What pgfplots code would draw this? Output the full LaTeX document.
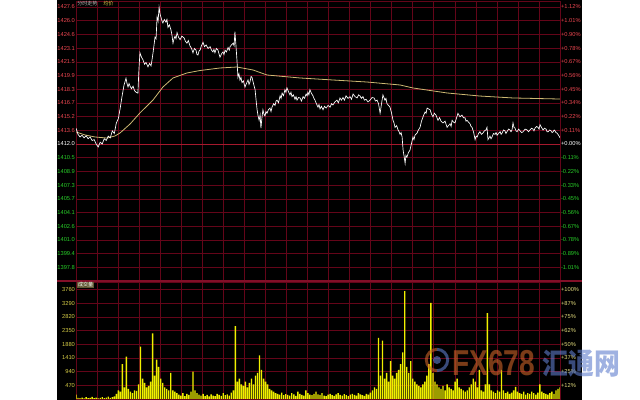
\documentclass[border=0pt]{standalone}
\usepackage{pgfplots}
\pgfplotsset{compat=1.18}
\usepackage{fontspec}
\setmainfont{Liberation Sans}
\newfontfamily\cjk{Noto Sans CJK SC}
\definecolor{gridred}{RGB}{100,5,25}
\definecolor{sepred}{RGB}{130,15,40}
\definecolor{zerored}{RGB}{165,25,45}
\definecolor{lblred}{RGB}{235,70,80}
\definecolor{lblgreen}{RGB}{40,205,40}
\definecolor{avgc}{RGB}{205,185,115}
\definecolor{volc}{RGB}{240,240,0}
\definecolor{vlbl}{RGB}{215,205,70}
\definecolor{wmorange}{RGB}{205,100,40}
\definecolor{wmblue}{RGB}{95,125,205}
\pgfplotsset{
  chartbase/.style={
    scale only axis, width=363pt, xmin=0, xmax=240,
    axis line style={gridred, line width=0.5pt},
    tick style={draw=none},
    xtick={10.43,20.87,31.30,41.74,52.17,62.61,73.04,83.48,93.91,104.35,114.78,125.22,135.65,146.09,156.52,166.96,177.39,187.83,198.26,208.70,219.13,229.57},
    xticklabels={},
    major grid style={gridred, line width=0.4pt},
    yticklabel style={font=\fontsize{4.3}{5}\selectfont, inner sep=0.6pt},
  }
}
\begin{document}
\begin{tikzpicture}
\path[use as bounding box] (0pt,0pt) rectangle (480pt,300pt);
\fill[white] (0pt,0pt) rectangle (480pt,300pt);
\fill[black] (42.75pt,0pt) rectangle (436.5pt,300pt);

% ---------- price pane ----------
\begin{axis}[chartbase, at={(57pt,89.25pt)}, anchor=south west, height=210pt,
  ymin=1396.375, ymax=1428.31, grid=major,
  ytick={1397.9375,1399.5,1401.0625,1402.625,1404.1875,1405.75,1407.3125,1408.875,1410.4375,1412.0,1413.5625,1415.125,1416.6875,1418.25,1419.8125,1421.375,1422.9375,1424.5,1426.0625,1427.625},
  yticklabels={\textcolor{lblgreen}{1397.8},\textcolor{lblgreen}{1399.4},\textcolor{lblgreen}{1401.0},\textcolor{lblgreen}{1402.6},\textcolor{lblgreen}{1404.1},\textcolor{lblgreen}{1405.7},\textcolor{lblgreen}{1407.3},\textcolor{lblgreen}{1408.9},\textcolor{lblgreen}{1410.5},\textcolor{white}{1412.0},\textcolor{lblred}{1413.6},\textcolor{lblred}{1415.2},\textcolor{lblred}{1416.7},\textcolor{lblred}{1418.3},\textcolor{lblred}{1419.9},\textcolor{lblred}{1421.5},\textcolor{lblred}{1423.1},\textcolor{lblred}{1424.6},\textcolor{lblred}{1426.0},\textcolor{lblred}{1427.6}},
]
\draw[zerored, line width=0.7pt] (axis cs:0,1412) -- (axis cs:240,1412);
% average price line
\addplot[avgc, line width=0.6pt] coordinates {
(0,1413.37) (4.5,1413.03) (9.4,1412.80) (15.4,1412.68) (19.3,1412.91) (21.8,1413.25)
(26.8,1414.28) (31.7,1415.54) (38.2,1417.02) (43.1,1418.50) (48.1,1419.53) (55.0,1420.10)
(61.5,1420.38) (71.4,1420.67) (79.8,1420.78) (87.8,1420.44) (94.7,1419.87) (111.1,1419.53)
(127.4,1419.30) (144.3,1419.07) (160.7,1418.73) (167.1,1418.39) (184.0,1417.82) (200.3,1417.47)
(216.7,1417.25) (240,1417.13)};
% price line
\addplot[white, line width=0.5pt] coordinates {
(0,1413.8) (1,1413.1) (2,1412.8) (3,1413.0) (4,1412.7) (5,1412.95) (6,1412.6) (7,1412.8) (8,1412.4) (9,1412.5)
(10,1412.0) (11,1411.66) (12,1412.2) (13,1412.0) (14,1412.6) (15,1412.4) (16,1412.9) (17,1412.7) (18,1413.5) (19,1413.2)
(20,1414.4) (21,1414.9) (22,1416.2) (22.8,1417.4) (23.8,1418.7) (24.8,1419.5) (25.3,1418.9) (25.8,1418.5) (26.3,1418.9) (26.8,1418.6)
(27.5,1418.3) (28.3,1418.6) (29,1418.1) (29.8,1417.9) (30.7,1417.8) (31.2,1420.5) (31.7,1422.4) (32.5,1421.9) (33.2,1421.6) (34,1421.1)
(34.7,1421.3) (35.7,1420.8) (36.5,1421.2) (37.2,1420.9) (37.7,1421.6) (38.2,1422.4) (38.7,1423.3) (39.2,1424.2) (39.7,1424.0) (40.2,1426.5)
(40.7,1426.0) (41.2,1427.6) (41.7,1426.8) (42.2,1426.4) (42.7,1426.0) (43.1,1425.8) (43.8,1426.2) (44.6,1425.9) (45.1,1426.2) (45.6,1425.3)
(46.3,1425.6) (47.1,1425.0) (47.6,1424.4) (48.1,1423.5) (48.6,1424.0) (49.1,1424.3) (49.6,1424.0) (50.1,1424.7) (50.8,1424.2) (51.6,1423.9)
(52.5,1424.3) (53.6,1424.1) (54.3,1423.7) (55.0,1423.5) (55.7,1423.8) (56.5,1423.2) (57.3,1422.9) (58.0,1422.4) (58.7,1422.9) (59.5,1422.7)
(60.0,1422.2) (60.5,1422.15) (61,1422.6) (61.5,1422.7) (62.2,1423.2) (63.0,1423.6) (63.7,1423.1) (64.5,1423.3) (65.5,1422.9) (66.5,1423.1)
(67.2,1422.7) (67.9,1422.5) (68.4,1422.8) (68.9,1422.4) (69.6,1422.9) (70.4,1422.7) (70.9,1422.3) (71.4,1421.9) (72.2,1422.3) (72.9,1422.5)
(73.4,1422.2) (73.9,1422.7) (74.6,1422.5) (75.4,1423.0) (76.0,1422.7) (76.4,1423.1) (77.1,1423.3) (77.9,1423.5) (78.4,1423.2) (78.8,1424.8)
(79.3,1423.3) (79.8,1421.6) (80.3,1419.6) (80.8,1420.0) (81.3,1419.3) (81.8,1419.6) (82.3,1419.0) (83,1419.2) (83.8,1418.5) (84.5,1418.9)
(85.3,1419.3) (85.8,1418.8) (86.3,1419.1) (86.8,1419.7) (87.3,1419.6) (88,1418.9) (88.8,1418.2) (89.3,1417.0) (89.8,1415.9) (90.3,1415.2)
(90.8,1414.7) (91.3,1415.3) (91.7,1413.8) (92.2,1415.0) (92.7,1415.9) (93.2,1415.4) (93.7,1415.2) (94.2,1415.7) (94.7,1415.5) (95.4,1415.9)
(96.2,1416.1) (96.7,1415.7) (97.2,1416.2) (98,1416.6) (98.7,1416.4) (99.2,1416.9) (99.7,1417.0) (100.4,1416.7) (101.2,1417.5) (101.7,1417.2)
(102.2,1417.8) (102.9,1417.5) (103.6,1418.2) (104.1,1417.9) (104.6,1418.4) (105.3,1418.0) (106.1,1417.6) (106.6,1417.9) (107.1,1417.4) (107.8,1417.6)
(108.6,1417.1) (109.1,1417.4) (109.6,1417.0) (110.3,1417.3) (111.1,1417.25) (111.8,1416.9) (112.6,1417.4) (113.3,1417.2) (114.1,1417.7) (114.6,1417.5)
(115.0,1417.9) (115.5,1417.6) (116.0,1418.2) (116.7,1417.8) (117.5,1417.5) (118.0,1417.2) (118.5,1417.0) (119.2,1416.6) (120.0,1416.2) (120.5,1416.5)
(121.0,1416.0) (121.7,1416.3) (122.5,1415.9) (123.2,1416.3) (124.0,1416.1) (125,1416.4) (126.0,1416.2) (126.7,1416.6) (127.4,1416.45) (128.4,1416.8)
(129.4,1417.0) (130.1,1416.7) (130.9,1417.25) (131.6,1417.0) (132.4,1417.3) (133.1,1417.0) (133.9,1417.5) (134.9,1417.2) (135.9,1417.4) (136.6,1417.1)
(137.4,1417.7) (138.4,1417.4) (139.4,1417.25) (140.1,1417.6) (140.8,1417.5) (141.5,1417.2) (142.3,1417.4) (143,1417.0) (143.8,1417.1) (144.8,1416.8)
(145.8,1417.0) (146.8,1417.3) (147.8,1417.25) (148.5,1416.9) (149.3,1417.0) (150,1416.6) (150.8,1415.5) (151.5,1416.6) (152.2,1417.6) (152.7,1417.3)
(153.2,1417.0) (153.7,1417.2) (154.2,1416.6) (155,1416.4) (155.7,1416.2) (156.4,1415.6) (157.2,1414.7) (157.7,1414.4) (158.2,1413.9) (159,1414.1)
(159.7,1413.6) (160.2,1413.4) (160.7,1413.1) (161.2,1413.3) (161.7,1412.8) (162.2,1411.3) (162.7,1410.6) (163.2,1409.8) (163.6,1410.7) (164.1,1410.5)
(164.8,1411.0) (165.6,1411.3) (166.3,1412.0) (167.1,1412.8) (167.6,1412.5) (168.1,1413.0) (169.1,1413.25) (169.8,1413.6) (170.6,1413.9) (171.3,1414.6)
(172.1,1415.1) (172.6,1415.4) (173.1,1415.65) (173.6,1415.5) (174.1,1416.1) (174.8,1416.0) (175.6,1415.9) (176.3,1415.4) (177.0,1415.1) (177.7,1415.5)
(178.5,1415.3) (179,1415.0) (179.5,1414.7) (180.3,1415.0) (181,1414.6) (182.0,1414.4) (183,1414.6) (184.0,1413.9) (184.7,1414.1) (185.5,1414.3)
(186,1414.0) (186.5,1414.7) (187.2,1414.5) (187.9,1414.4) (188.6,1414.9) (189.4,1415.5) (190.4,1415.1) (191.4,1415.3) (192.1,1415.0) (192.9,1415.0)
(193.4,1414.6) (193.9,1414.7) (194.6,1414.5) (195.4,1414.3) (195.9,1414.0) (196.4,1413.9) (197.2,1413.3) (197.9,1412.5) (198.4,1412.9) (198.9,1412.8)
(199.6,1413.2) (200.3,1413.4) (201,1413.1) (201.8,1413.25) (202.5,1413.5) (203.3,1413.6) (203.8,1413.9) (204.3,1412.5) (204.8,1412.7) (205.3,1412.9)
(205.8,1412.6) (206.3,1412.8) (207.0,1413.2) (207.8,1413.1) (208.3,1413.3) (208.8,1413.0) (209.5,1413.2) (210.3,1413.4) (210.8,1413.1) (211.3,1413.25)
(212,1413.6) (212.7,1413.5) (213.2,1413.2) (213.7,1413.4) (214.5,1413.7) (215.2,1413.6) (215.7,1413.4) (216.2,1413.6) (216.7,1414.4) (217.2,1413.9)
(217.7,1413.8) (218.2,1413.5) (218.7,1413.4) (219.5,1413.7) (220.2,1413.5) (221,1413.3) (221.7,1413.4) (222.7,1413.7) (223.7,1413.6) (224.4,1413.4)
(225.1,1413.6) (225.9,1413.8) (226.6,1413.7) (227.1,1413.5) (227.6,1413.8) (228.4,1414.0) (229.1,1413.9) (229.6,1413.7) (230.1,1414.2) (230.8,1413.9)
(231.6,1413.6) (232.3,1413.8) (233.1,1413.7) (233.6,1413.4) (234.1,1413.4) (234.9,1413.6) (235.6,1413.5) (236.1,1413.3) (236.6,1413.4) (237.1,1413.6)
(237.5,1413.5) (238,1413.3) (238.5,1413.25) (239.3,1413.0) (240.0,1412.7)};
\end{axis}
% right labels of price pane
\begin{axis}[chartbase, at={(57pt,89.25pt)}, anchor=south west, height=210pt,
  ymin=1396.375, ymax=1428.31, axis y line*=right, axis x line=none,
  ytick={1397.9375,1399.5,1401.0625,1402.625,1404.1875,1405.75,1407.3125,1408.875,1410.4375,1412.0,1413.5625,1415.125,1416.6875,1418.25,1419.8125,1421.375,1422.9375,1424.5,1426.0625,1427.625},
  yticklabels={\textcolor{lblgreen}{-1.01\%},\textcolor{lblgreen}{-0.89\%},\textcolor{lblgreen}{-0.78\%},\textcolor{lblgreen}{-0.67\%},\textcolor{lblgreen}{-0.56\%},\textcolor{lblgreen}{-0.45\%},\textcolor{lblgreen}{-0.33\%},\textcolor{lblgreen}{-0.22\%},\textcolor{lblgreen}{-0.11\%},\textcolor{white}{+0.00\%},\textcolor{lblred}{+0.11\%},\textcolor{lblred}{+0.22\%},\textcolor{lblred}{+0.34\%},\textcolor{lblred}{+0.45\%},\textcolor{lblred}{+0.56\%},\textcolor{lblred}{+0.67\%},\textcolor{lblred}{+0.78\%},\textcolor{lblred}{+0.90\%},\textcolor{lblred}{+1.01\%},\textcolor{lblred}{+1.12\%}},
]
\addplot[draw=none] coordinates {(0,1412)};
\end{axis}

% ---------- volume pane ----------
\begin{axis}[chartbase, at={(57pt,0.75pt)}, anchor=south west, height=87.75pt,
  ymin=0, ymax=4014, grid=major,
  ytick={470,940,1410,1880,2350,2820,3290,3760},
  yticklabels={470,940,1410,1880,2350,2820,3290,3760},
  yticklabel style={text=vlbl},
]
\addplot[ybar, bar width=1.05pt, fill=volc, draw=none] coordinates {
(0,150) (1,40) (2,30) (3,50) (4,20) (5,60) (6,30) (7,40) (8,70) (9,30) (10,50) (11,20) (12,40) (13,60) (14,30) (15,50) (16,80) (17,40) (18,60) (19,90)
(20,180) (21,300) (22,250) (23,1200) (24,400) (25,1450) (26,350) (27,250) (28,200) (29,300) (30,280) (31,500) (32,1800) (33,700) (34,550) (35,400) (36,450) (37,600) (38,2250) (39,800)
(40,1350) (41,1100) (42,700) (43,550) (44,400) (45,350) (46,300) (47,900) (48,300) (49,250) (50,200)
(51,150) (52,120) (53,200) (54,100) (55,180) (56,140) (57,250) (58,940) (59,300) (60,200) (61,150) (62,120) (63,180) (64,100) (65,140) (66,90) (67,160) (68,120) (69,100) (70,180)
(71,140) (72,110) (73,200) (74,130) (75,160) (76,120) (77,220) (78,300) (79,2500) (80,600) (81,700) (82,500) (83,450) (84,600) (85,400) (86,550) (87,700) (88,500) (89,800) (90,900)
(91,1500) (92,1000) (93,700) (94,600) (95,500) (96,350) (97,300) (98,250) (99,200) (100,180) (101,150) (102,220) (103,130) (104,170) (105,140) (106,120) (107,200) (108,160) (109,110) (110,250)
(111,180) (112,140) (113,120) (114,300) (115,200) (116,150) (117,130) (118,180) (119,250) (120,160) (121,140) (122,200) (123,120) (124,100) (125,150) (126,180) (127,130) (128,110) (129,160) (130,200)
(131,140) (132,120) (133,170) (134,130) (135,100) (136,150) (137,180) (138,140) (139,120) (140,200) (141,160) (142,130) (143,110) (144,180) (145,150) (146,220) (147,300) (148,400) (149,350) (150,2100)
(151,800) (152,2000) (153,700) (154,900) (155,600) (156,1300) (157,800) (158,700) (159,900) (160,1000) (161,1200) (162,1600) (163,3700) (164,1100) (165,900) (166,1300) (167,700) (168,600) (169,500) (170,450)
(171,400) (172,500) (173,600) (174,800) (175,1200) (176,3300) (177,900) (178,600) (179,500) (180,400) (181,350) (182,450) (183,300) (184,500) (185,400) (186,350) (187,300) (188,600) (189,700) (190,400)
(191,350) (192,300) (193,250) (194,300) (195,400) (196,500) (197,700) (198,600) (199,400) (200,1000) (201,300) (202,250) (203,500) (204,2950) (205,500) (206,300) (207,250) (208,200) (209,300) (210,250)
(211,1000) (212,300) (213,200) (214,250) (215,180) (216,220) (217,300) (218,420) (219,250) (220,200) (221,180) (222,250) (223,150) (224,200) (225,180) (226,250) (227,200) (228,150) (229,220) (230,500)
(231,250) (232,200) (233,180) (234,150) (235,200) (236,250) (237,180) (238,300) (239,350) (240,400)};
\end{axis}
\begin{axis}[chartbase, at={(57pt,0.75pt)}, anchor=south west, height=87.75pt,
  ymin=0, ymax=4014, axis y line*=right, axis x line=none,
  ytick={470,940,1410,1880,2350,2820,3290,3760},
  yticklabels={+12\%,+25\%,+37\%,+50\%,+62\%,+75\%,+87\%,+100\%},
  yticklabel style={text=vlbl!70!white},
]
\addplot[draw=none] coordinates {(0,0)};
\end{axis}

% separator
\draw[sepred, line width=2.2pt] (42.75pt,89.25pt) -- (436.5pt,89.25pt);
% titles
\node[anchor=west, inner sep=0pt, text=white!75!black, font=\cjk\fontsize{3.8}{4}\selectfont] at (57.75pt,297.6pt) {分时走势};
\node[anchor=west, inner sep=0pt, text=vlbl, font=\cjk\fontsize{3.8}{4}\selectfont] at (77.25pt,297.6pt) {均价};
\node[anchor=west, inner sep=0.6pt, fill={rgb,255:red,95;green,88;blue,50}, text=white, font=\cjk\fontsize{3.8}{4}\selectfont] at (57.75pt,86.2pt) {成交量};
% watermark
\begin{scope}[opacity=0.6]
\draw[wmorange, line width=2.2pt] (327.75pt,30pt) ++(90:8pt) arc[start angle=90, end angle=270, radius=8pt];
\draw[wmblue, line width=2.2pt] (327.75pt,30pt) ++(-90:8pt) arc[start angle=-90, end angle=90, radius=8pt];
\fill[wmblue] (327.75pt,30pt) circle (3pt);
\node[anchor=west, inner sep=0pt, text=wmorange, font=\bfseries\fontsize{27}{28}\selectfont, xscale=0.78] at (339pt,27.5pt) {FX678};
\node[anchor=west, inner sep=0pt, text=wmblue, font=\cjk\bfseries\fontsize{22}{24}\selectfont, xscale=0.88] at (407pt,27.5pt) {汇通网};
\end{scope}
\end{tikzpicture}
\end{document}
